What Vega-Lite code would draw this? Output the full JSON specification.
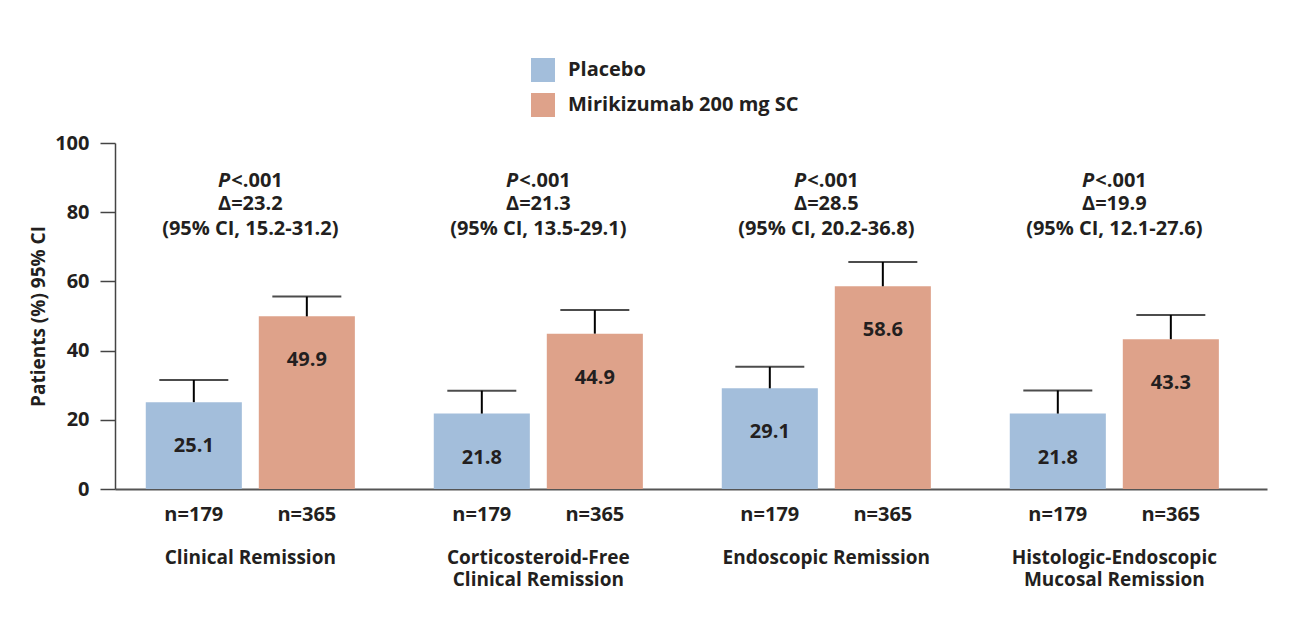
{
  "$schema": "https://vega.github.io/schema/vega-lite/v6.json",
  "width": 1152,
  "height": 346,
  "autosize": {"type": "none"},
  "padding": {"left": 115, "top": 143, "right": 24, "bottom": 144},
  "background": "white",
  "config": {
    "view": {"stroke": null},
    "font": "Open Sans",
    "text": {"font": "Open Sans", "fontWeight": "bold", "color": "#231f20"}
  },
  "datasets": {
    "bars": [
      {"endpoint": "Clinical Remission", "treatment": "Placebo", "pct": 25.1, "upper": 31.5, "n": "n=179"},
      {"endpoint": "Clinical Remission", "treatment": "Mirikizumab 200 mg SC", "pct": 49.9, "upper": 55.6, "n": "n=365"},
      {"endpoint": "Corticosteroid-Free Clinical Remission", "treatment": "Placebo", "pct": 21.8, "upper": 28.4, "n": "n=179"},
      {"endpoint": "Corticosteroid-Free Clinical Remission", "treatment": "Mirikizumab 200 mg SC", "pct": 44.9, "upper": 51.7, "n": "n=365"},
      {"endpoint": "Endoscopic Remission", "treatment": "Placebo", "pct": 29.1, "upper": 35.3, "n": "n=179"},
      {"endpoint": "Endoscopic Remission", "treatment": "Mirikizumab 200 mg SC", "pct": 58.6, "upper": 65.6, "n": "n=365"},
      {"endpoint": "Histologic-Endoscopic Mucosal Remission", "treatment": "Placebo", "pct": 21.8, "upper": 28.5, "n": "n=179"},
      {"endpoint": "Histologic-Endoscopic Mucosal Remission", "treatment": "Mirikizumab 200 mg SC", "pct": 43.3, "upper": 50.3, "n": "n=365"}
    ],
    "notes": [
      {"endpoint": "Clinical Remission", "p": "P", "pval": "<.001", "delta": "Δ=23.2", "ci": "(95% CI, 15.2-31.2)"},
      {"endpoint": "Corticosteroid-Free Clinical Remission", "p": "P", "pval": "<.001", "delta": "Δ=21.3", "ci": "(95% CI, 13.5-29.1)"},
      {"endpoint": "Endoscopic Remission", "p": "P", "pval": "<.001", "delta": "Δ=28.5", "ci": "(95% CI, 20.2-36.8)"},
      {"endpoint": "Histologic-Endoscopic Mucosal Remission", "p": "P", "pval": "<.001", "delta": "Δ=19.9", "ci": "(95% CI, 12.1-27.6)"}
    ]
  },
  "layer": [
    {
      "data": {"name": "bars"},
      "mark": {"type": "bar"},
      "encoding": {
        "x": {
          "field": "endpoint", "type": "nominal", "sort": null,
          "scale": {"paddingInner": 0.274, "paddingOuter": 0.137, "align": 0.39},
          "axis": {
            "title": null, "ticks": false, "tickSize": 0, "labelAngle": 0, "labelLimit": 0,
            "labelPadding": 59, "labelBaseline": "top", "labelLineHeight": 22,
            "labelFont": "Open Sans", "labelFontSize": 19, "labelFontWeight": "bold", "labelColor": "#231f20",
            "domainColor": "#555555", "domainWidth": 2,
            "labelExpr": "datum.label == 'Corticosteroid-Free Clinical Remission' ? ['Corticosteroid-Free', 'Clinical Remission'] : datum.label == 'Histologic-Endoscopic Mucosal Remission' ? ['Histologic-Endoscopic', 'Mucosal Remission'] : datum.label"
          }
        },
        "xOffset": {
          "field": "treatment", "type": "nominal",
          "sort": ["Placebo", "Mirikizumab 200 mg SC"],
          "scale": {"paddingInner": 0.15, "paddingOuter": 0}
        },
        "y": {
          "field": "pct", "type": "quantitative",
          "scale": {"domain": [0, 100], "nice": false},
          "axis": {
            "title": "Patients (%) 95% CI", "values": [0, 20, 40, 60, 80, 100],
            "grid": false, "tickSize": 15, "tickColor": "#444444", "tickWidth": 1.5,
            "domainColor": "#444444", "domainWidth": 1.5,
            "labelPadding": 11, "labelFont": "Open Sans", "labelFontSize": 20, "labelFontWeight": "bold", "labelColor": "#231f20",
            "titleFont": "Open Sans", "titleFontSize": 19, "titleFontWeight": "bold", "titleColor": "#231f20", "titlePadding": 6
          }
        },
        "color": {
          "field": "treatment", "type": "nominal",
          "scale": {"domain": ["Placebo", "Mirikizumab 200 mg SC"], "range": ["#a3bedb", "#dea28a"]},
          "legend": {
            "title": null, "orient": "none", "legendX": 416, "legendY": -85,
            "symbolType": "square", "symbolSize": 576, "symbolStrokeWidth": 0, "symbolOpacity": 1,
            "labelFont": "Open Sans", "labelFontSize": 20, "labelFontWeight": "bold", "labelColor": "#231f20",
            "labelOffset": 13, "rowPadding": 11, "padding": 0, "labelLimit": 0
          }
        }
      }
    },
    {
      "data": {"name": "bars"},
      "mark": {"type": "rule", "color": "#000000", "strokeWidth": 2},
      "encoding": {
        "x": {"field": "endpoint", "type": "nominal", "sort": null},
        "xOffset": {"field": "treatment", "type": "nominal", "sort": ["Placebo", "Mirikizumab 200 mg SC"]},
        "y": {"field": "pct", "type": "quantitative"},
        "y2": {"field": "upper"}
      }
    },
    {
      "data": {"name": "bars"},
      "mark": {"type": "tick", "color": "#000000", "thickness": 2, "size": 69},
      "encoding": {
        "x": {"field": "endpoint", "type": "nominal", "sort": null},
        "xOffset": {"field": "treatment", "type": "nominal", "sort": ["Placebo", "Mirikizumab 200 mg SC"]},
        "y": {"field": "upper", "type": "quantitative"}
      }
    },
    {
      "data": {"name": "bars"},
      "mark": {"type": "text", "fontSize": 20, "baseline": "alphabetic", "dy": 50},
      "encoding": {
        "x": {"field": "endpoint", "type": "nominal", "sort": null},
        "xOffset": {"field": "treatment", "type": "nominal", "sort": ["Placebo", "Mirikizumab 200 mg SC"]},
        "y": {"field": "pct", "type": "quantitative"},
        "text": {"field": "pct", "type": "quantitative", "format": ".1f"}
      }
    },
    {
      "data": {"name": "bars"},
      "mark": {"type": "text", "fontSize": 20, "baseline": "alphabetic", "dy": 32},
      "encoding": {
        "x": {"field": "endpoint", "type": "nominal", "sort": null},
        "xOffset": {"field": "treatment", "type": "nominal", "sort": ["Placebo", "Mirikizumab 200 mg SC"]},
        "y": {"datum": 0, "type": "quantitative"},
        "text": {"field": "n"}
      }
    },
    {
      "data": {"name": "notes"},
      "mark": {"type": "text", "fontSize": 20, "fontStyle": "italic", "baseline": "alphabetic", "align": "right", "dx": -20},
      "encoding": {
        "x": {"field": "endpoint", "type": "nominal", "sort": null},
        "y": {"datum": 87.4, "type": "quantitative"},
        "text": {"field": "p"}
      }
    },
    {
      "data": {"name": "notes"},
      "mark": {"type": "text", "fontSize": 20, "baseline": "alphabetic", "align": "left", "dx": -19},
      "encoding": {
        "x": {"field": "endpoint", "type": "nominal", "sort": null},
        "y": {"datum": 87.4, "type": "quantitative"},
        "text": {"field": "pval"}
      }
    },
    {
      "data": {"name": "notes"},
      "mark": {"type": "text", "fontSize": 20, "baseline": "alphabetic"},
      "encoding": {
        "x": {"field": "endpoint", "type": "nominal", "sort": null},
        "y": {"datum": 80.6, "type": "quantitative"},
        "text": {"field": "delta"}
      }
    },
    {
      "data": {"name": "notes"},
      "mark": {"type": "text", "fontSize": 20, "baseline": "alphabetic"},
      "encoding": {
        "x": {"field": "endpoint", "type": "nominal", "sort": null},
        "y": {"datum": 73.4, "type": "quantitative"},
        "text": {"field": "ci"}
      }
    }
  ]
}
